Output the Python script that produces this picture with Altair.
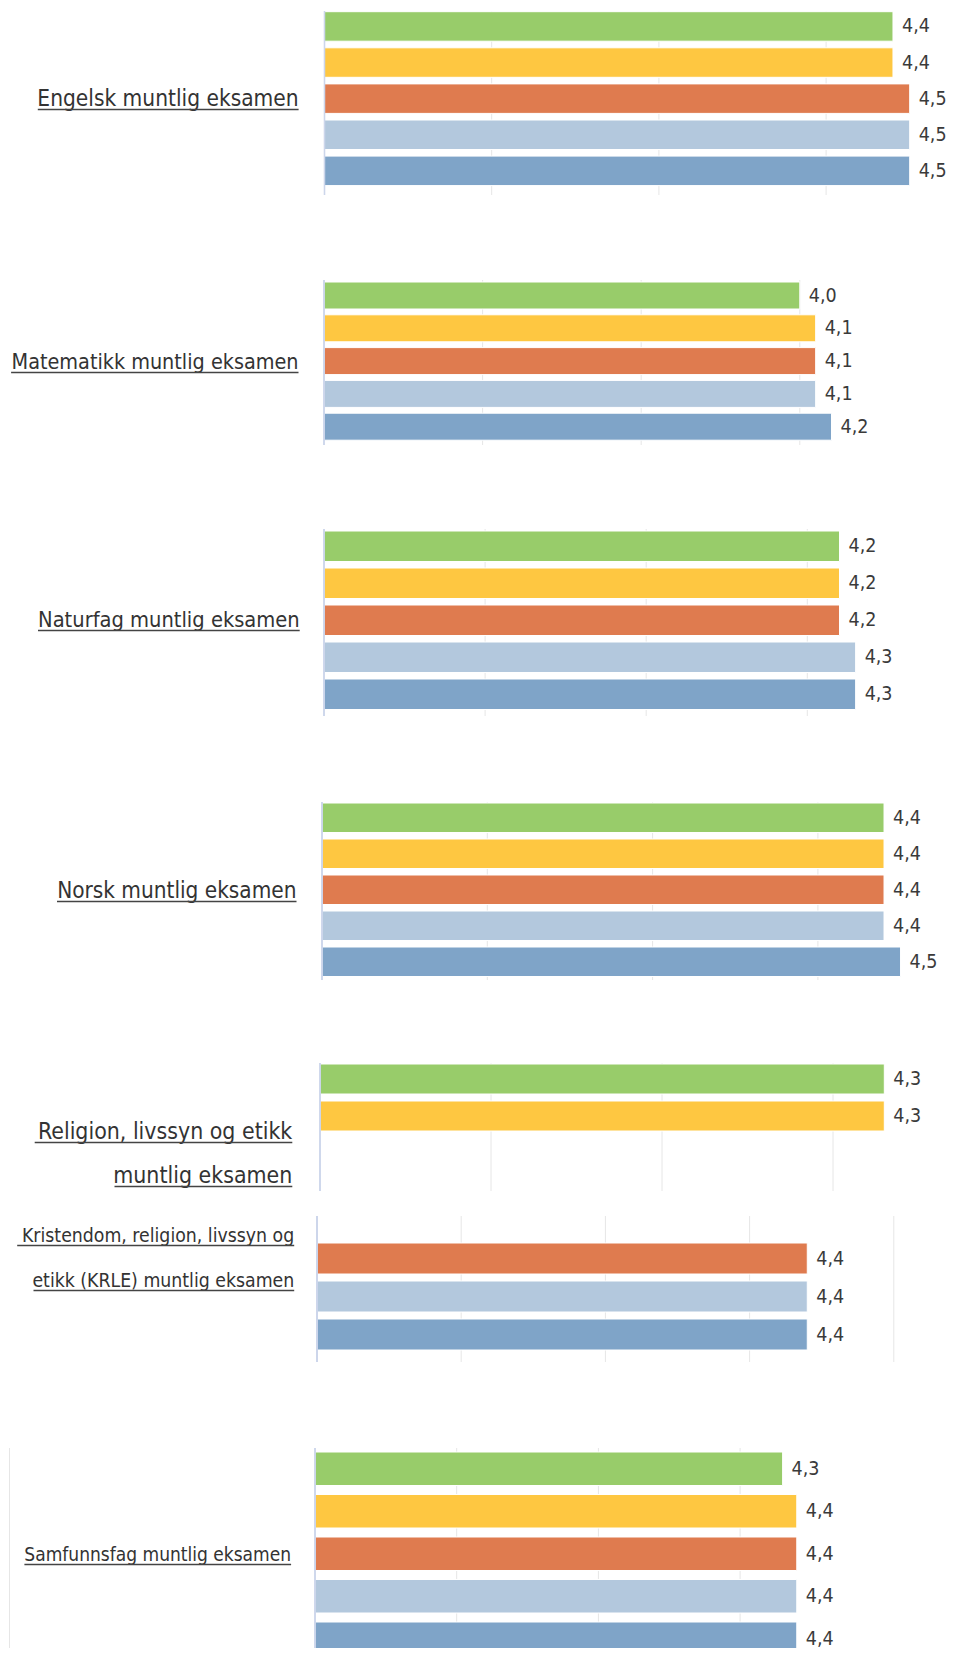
import altair as alt
import pandas as pd

# ---------------- data ----------------
series = ["Serie 1", "Serie 2", "Serie 3", "Serie 4", "Serie 5"]
colors = ["#98CC6A", "#FEC741", "#DF7B4F", "#B3C8DD", "#7FA4C8"]

subjects = [
    "Engelsk muntlig eksamen",
    "Matematikk muntlig eksamen",
    "Naturfag muntlig eksamen",
    "Norsk muntlig eksamen",
    "Religion, livssyn og etikk\nmuntlig eksamen",
    "Kristendom, religion, livssyn og\netikk (KRLE) muntlig eksamen",
    "Samfunnsfag muntlig eksamen",
]

engelsk = [4.4, 4.4, 4.5, 4.5, 4.5]
matematikk = [4.0, 4.1, 4.1, 4.1, 4.2]
naturfag = [4.2, 4.2, 4.2, 4.3, 4.3]
norsk = [4.4, 4.4, 4.4, 4.4, 4.5]
religion = [4.3, 4.3, None, None, None]
krle = [None, None, 4.4, 4.4, 4.4]
samfunnsfag = [4.3, 4.4, 4.4, 4.4, 4.4]

values_per_subject = [engelsk, matematikk, naturfag, norsk, religion, krle, samfunnsfag]

axis_start = 1
grid_values = [2, 3, 4, 5]

# ---------------- layout (page pixels) ----------------
FONT = "DejaVu Sans Condensed, DejaVu Sans, sans-serif"
PAGE_MARGIN = 8
ROW_WIDTH = 931
CHART_BOTTOM = 1649

layout = [
    dict(axis_x=324.5, k=167.2, top=12, h=184, step=36.1, bar=29.5, off=0.7, dmax=4.68,
         right=298.6, baselines=[107], ul=[260.8], fs=22.5),
    dict(axis_x=324, k=158.6, top=281, h=165, step=32.8, bar=27, off=2, dmax=4.88,
         right=298.5, baselines=[370], ul=[287.4], fs=21.4),
    dict(axis_x=324, k=161.1, top=530, h=187, step=37, bar=30.5, off=2, dmax=4.82,
         right=299.7, baselines=[628], ul=[261.7], fs=21.7),
    dict(axis_x=322, k=165.3, top=803, h=178, step=36, bar=29.5, off=1, dmax=4.74,
         right=296.5, baselines=[899], ul=[239.5], fs=22.4),
    dict(axis_x=320, k=171, top=1064, h=128, step=37, bar=30, off=1, dmax=4.63,
         right=292.3, baselines=[1140, 1184], ul=[257.6, 177.8], fs=22.9),
    dict(axis_x=317, k=144.2, top=1217, h=146, step=38, bar=31, off=27, dmax=5.0,
         right=294.2, baselines=[1243, 1288], ul=[277, 260.7], fs=19.3),
    dict(axis_x=315, k=141.7, top=1449, h=200, range_h=212, step=42.5, bar=33.5, off=4,
         dmax=4.85, right=291.1, baselines=[1562], ul=[266.7], fs=19.0, border=True),
]


def row_chart(text, vals, L, row_height):
    rows = [(s, v) for s, v in zip(series, vals) if v is not None]
    df = pd.DataFrame(rows, columns=["series", "value"])
    dom = list(df["series"])
    n = len(dom)
    rh = L.get("range_h", L["h"])
    pi = (L["step"] - L["bar"]) / L["step"]
    used = L["step"] * (n - pi)
    left = rh - used
    po = left / (2 * L["step"])
    al = min(max(L["off"] / left, 0), 1) if left > 0 else 0.5

    x0 = L["axis_x"] - PAGE_MARGIN
    x1 = x0 + (L["dmax"] - axis_start) * L["k"]
    xscale = alt.Scale(domain=[axis_start, L["dmax"]], range=[x0, x1], zero=False, nice=False)
    yscale = alt.Scale(domain=dom, range=[0, rh], paddingInner=pi, paddingOuter=po, align=al)
    clip_h = min(L["h"], row_height)

    gdf = pd.DataFrame({"g": [g for g in grid_values if g <= L["dmax"]]})
    grid = alt.Chart(gdf).mark_rule(color="#e6e6e6", strokeWidth=1).encode(
        x=alt.X("g:Q", scale=xscale, axis=None),
        y=alt.value(0), y2=alt.value(clip_h),
    )
    axis_line = alt.Chart(gdf).mark_rule(color="#ccd6eb", strokeWidth=1.2).encode(
        x=alt.datum(axis_start), y=alt.value(0), y2=alt.value(clip_h),
    )

    base = alt.Chart(df).encode(
        y=alt.Y("series:N", scale=yscale, sort=dom, axis=None),
    )
    bars = base.mark_bar(stroke="white", strokeWidth=1).encode(
        x=alt.X("value:Q", scale=xscale, axis=None),
        x2=alt.datum(axis_start),
        color=alt.Color("series:N", scale=alt.Scale(domain=series, range=colors), legend=None),
    )
    labels = base.mark_text(align="left", baseline="middle", dx=9, fontSize=19.5,
                            font=FONT, color="#3a3a3a").encode(
        x=alt.X("value:Q", scale=xscale, axis=None),
        text="label:N",
    ).transform_calculate(label="replace(format(datum.value, '.1f'), '.', ',')")

    # subject label (left of the bars) with underline
    xr = L["right"] - PAGE_MARGIN
    tdf = pd.DataFrame({"text": [text]})
    b0 = L["baselines"][0] - L["top"]
    lh = (L["baselines"][1] - L["baselines"][0]) if len(L["baselines"]) > 1 else L["fs"] * 1.2
    title_txt = alt.Chart(tdf).mark_text(
        align="right", baseline="alphabetic", fontSize=L["fs"], font=FONT,
        color="#333333", lineBreak="\n", lineHeight=lh,
    ).encode(x=alt.value(xr), y=alt.value(b0), text="text:N")
    layers = [grid, bars, labels, axis_line, title_txt]
    for bl, ul in zip(L["baselines"], L["ul"]):
        yy = bl - L["top"] + 3.5
        layers.append(
            alt.Chart(tdf).mark_rule(color="#444444", strokeWidth=1.6).encode(
                x=alt.value(xr - ul), x2=alt.value(xr), y=alt.value(yy))
        )
    if L.get("border"):
        layers.append(
            alt.Chart(tdf).mark_rule(color="#e6e6e6", strokeWidth=1).encode(
                x=alt.value(1.5), y=alt.value(0), y2=alt.value(clip_h))
        )
    return alt.layer(*layers).properties(width=ROW_WIDTH, height=row_height)


charts = []
for i, (subj, vals, L) in enumerate(zip(subjects, values_per_subject, layout)):
    if i + 1 < len(layout):
        rh = layout[i + 1]["top"] - L["top"]
    else:
        rh = CHART_BOTTOM - L["top"]
    charts.append(row_chart(subj, vals, L, rh))

chart = alt.vconcat(*charts, spacing=0, bounds="flush").properties(
    padding={"left": 0, "top": 2, "right": 0, "bottom": 0},
    background="white",
).configure_view(stroke=None, clip=False).configure_concat(spacing=0)

# the last panel is cut at the bottom, as in the original screenshot
chart = chart.to_dict()
chart["vconcat"][-1]["layer"][1]["mark"]["clip"] = True
chart["vconcat"][-1]["layer"][2]["mark"]["clip"] = True
chart = alt.VConcatChart.from_dict(chart)

chart.save("out.html", embed_options={"renderer": "svg", "actions": False})
